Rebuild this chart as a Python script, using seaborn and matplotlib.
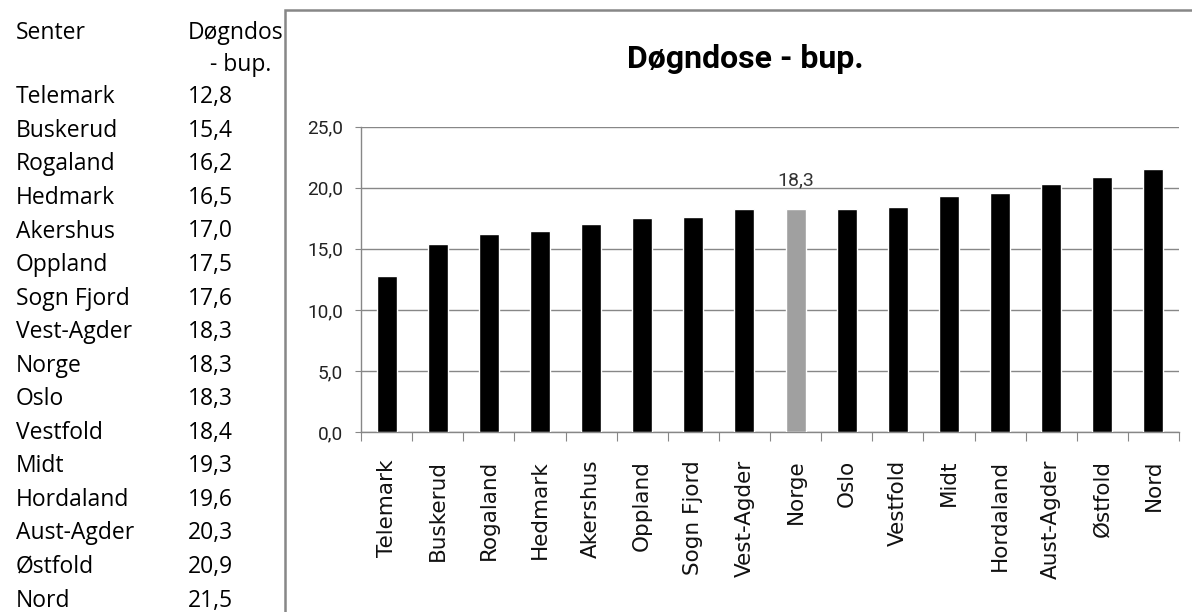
import matplotlib
matplotlib.use("Agg")
import matplotlib.pyplot as plt
import seaborn as sns
import numpy as np
import pandas as pd
from matplotlib.patches import Rectangle

# ---- data ----
categories = ["Telemark", "Buskerud", "Rogaland", "Hedmark", "Akershus", "Oppland",
              "Sogn Fjord", "Vest-Agder", "Norge", "Oslo", "Vestfold", "Midt",
              "Hordaland", "Aust-Agder", "Østfold", "Nord"]
values = [12.8, 15.4, 16.2, 16.5, 17.0, 17.5, 17.6, 18.3, 18.3, 18.3, 18.4, 19.3,
          19.6, 20.3, 20.9, 21.5]
highlight = "Norge"
title = "Døgndose - bup."
table_headers = ["Senter", "Døgndos", "- bup."]
yticks = [0, 5, 10, 15, 20, 25]

def fmt(v):
    return f"{v:.1f}".replace(".", ",")

sns.set_style("white")
plt.rcParams["font.family"] = ["DejaVu Sans"]

W, H = 1192, 612
fig = plt.figure(figsize=(W / 100, H / 100), dpi=100)
fig.patch.set_facecolor("white")

def fx(px):
    return px / W

def fy(py):
    return 1 - py / H

# ---- left table ----
tfont = dict(family="Open Sans", fontsize=16.5, color="black", va="baseline")
fig.text(fx(16), fy(39.3), table_headers[0], ha="left", **tfont)
fig.text(fx(188), fy(39.3), table_headers[1], ha="left", **tfont)
fig.text(fx(210), fy(70.7), table_headers[2], ha="left", **tfont)
for i, (c, v) in enumerate(zip(categories, values)):
    yb = 103.3 + i * 33.55
    fig.text(fx(16), fy(yb), c, ha="left", **tfont)
    fig.text(fx(188), fy(yb), fmt(v), ha="left", **tfont)

# ---- chart box ----
fig.patches.append(Rectangle((fx(285), -0.05), 1.2, fy(9.5) + 0.05,
                             transform=fig.transFigure, facecolor="white",
                             edgecolor="#878787", linewidth=1.8, zorder=-1))

# ---- axes ----
left, right = 361, 1179
top, bottom = 126.7, 432
ax = fig.add_axes([fx(left), fy(bottom), fx(right - left), (bottom - top) / H])
ax.set_facecolor("none")
ax.set_zorder(2)

df = pd.DataFrame({"Senter": categories, "Verdi": values})
palette = {c: ("#a0a0a0" if c == highlight else "black") for c in categories}
sns.barplot(data=df, x="Senter", y="Verdi", hue="Senter", palette=palette,
            legend=False, width=0.39, ax=ax, zorder=3, saturation=1)

ax.set_xlim(-0.5, len(categories) - 0.5)
ax.set_ylim(0, 25)
ax.set_yticks(yticks)
ax.set_yticklabels([fmt(t) for t in yticks], family="Roboto", fontsize=13.7,
                   color="#222222")
ax.yaxis.grid(True, color="#878787", linewidth=1.0, zorder=0)
ax.set_axisbelow(True)
ax.tick_params(axis="y", length=4.3, width=0.8, color="#878787", pad=8.6, left=True)

ax.set_xticks(range(len(categories)))
ax.set_xticklabels(categories, rotation=90, ha="center", va="top",
                   family="DejaVu Sans", fontsize=15.5, color="#111111")
ax.tick_params(axis="x", which="major", length=0, pad=20)
ax.set_xticks(np.arange(-0.5, len(categories)), minor=True)
ax.tick_params(axis="x", which="minor", length=6.5, width=0.8, color="#878787",
               direction="out", bottom=True)

for s in ["top", "right"]:
    ax.spines[s].set_visible(False)
for s in ["left", "bottom"]:
    ax.spines[s].set_color("#878787")
    ax.spines[s].set_linewidth(1.0)

ax.set_xlabel("")
ax.set_ylabel("")

# value label on highlighted bar
hi = categories.index(highlight)
ax.annotate(fmt(values[hi]), (hi, values[hi]), xytext=(0, 14), textcoords="offset points",
            ha="center", va="bottom", family="Roboto", fontsize=14, color="#333333")

# title
fig.text(fx(745.5), fy(58.5), title, ha="center", va="center",
         family="Roboto", fontweight="bold", fontsize=23, color="black")

fig.savefig("out.png", dpi=100, facecolor="white")
